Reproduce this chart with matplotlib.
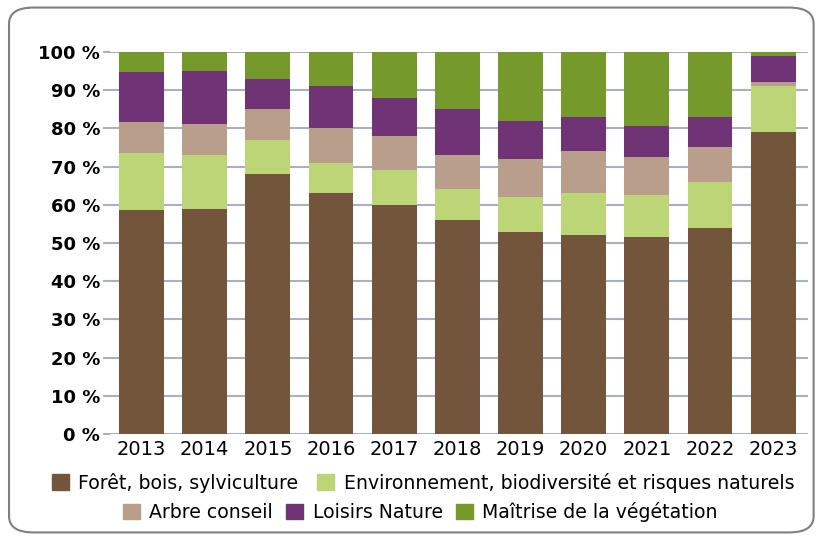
import matplotlib.pyplot as plt
import numpy as np
from matplotlib.patches import FancyBboxPatch, Patch

years = ["2013", "2014", "2015", "2016", "2017", "2018", "2019", "2020", "2021", "2022", "2023"]
foret = [58.6, 58.9, 68, 63, 60, 56, 53, 52, 51.5, 54, 79]
environnement = [15, 14.1, 9, 8, 9, 8, 9, 11, 11, 12, 12]
arbre = [8, 8, 8, 9, 9, 9, 10, 11, 10, 9, 1]
loisirs = [13, 14, 8, 11, 10, 12, 10, 9, 8, 8, 7]
vegetation = [100 - a - b - c - d for a, b, c, d in zip(foret, environnement, arbre, loisirs)]

labels = ["Forêt, bois, sylviculture", "Environnement, biodiversité et risques naturels",
          "Arbre conseil", "Loisirs Nature", "Maîtrise de la végétation"]
colors = ["#73553b", "#bcd577", "#b89e8b", "#703476", "#76992b"]

fig = plt.figure(figsize=(8.21, 5.4), dpi=100)
ax = fig.add_axes([0.134, 0.196, 0.85, 0.708])

# rounded frame around everything
fig.patches.append(FancyBboxPatch((0.011, 0.014), 0.98, 0.972, boxstyle="round,pad=0,rounding_size=0.03",
                                  transform=fig.transFigure, fc="none", ec="#7f7f7f", lw=1.5))

x = np.arange(len(years))
bottom = np.zeros(len(years))
for vals, c in zip([foret, environnement, arbre, loisirs, vegetation], colors):
    ax.bar(x, vals, 0.71, bottom=bottom, color=c, zorder=3)
    bottom += np.array(vals)

ax.set_xlim(-0.5, 10.55)
ax.set_ylim(0, 100)
ax.set_yticks(range(0, 101, 10))
ax.set_yticklabels([f"{v} %" for v in range(0, 101, 10)], fontsize=13, fontweight="bold")
ax.set_xticks(x)
ax.set_xticklabels(years, fontsize=14)
ax.grid(axis="y", color="#a9b0c0", lw=1.5, zorder=0)
ax.tick_params(axis="y", length=5, color="#a9b0c0", width=1.5, pad=2)
ax.tick_params(axis="x", length=0, pad=4)
for s in ax.spines.values():
    s.set_visible(False)

handles = [Patch(color=c) for c in colors]
leg1 = fig.legend(handles[:2], labels[:2], ncol=2, loc="center", bbox_to_anchor=(0.515, 0.106),
                  frameon=False, fontsize=13.6, handlelength=0.9, handleheight=0.9, columnspacing=1.0,
                  handletextpad=0.5)
leg2 = fig.legend(handles[2:], labels[2:], ncol=3, loc="center", bbox_to_anchor=(0.512, 0.052),
                  frameon=False, fontsize=13.6, handlelength=0.9, handleheight=0.9, columnspacing=0.7,
                  handletextpad=0.5)

fig.savefig("out.png", dpi=100)
